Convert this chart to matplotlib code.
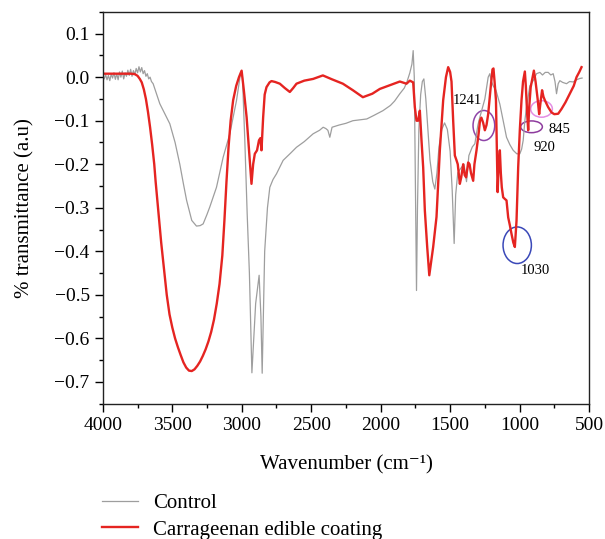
import matplotlib
matplotlib.use("Agg")
import matplotlib.pyplot as plt
from matplotlib.patches import Ellipse
from matplotlib.ticker import MultipleLocator

plt.rcParams['font.family'] = ['Liberation Serif', 'DejaVu Serif']

# Control (gray) - wavenumber / value
ctrl_wn = [4000, 3990, 3980, 3970, 3960, 3950, 3940, 3930, 3920, 3910, 3900, 3890, 3880, 3870,
           3860, 3850, 3840, 3830, 3820, 3810, 3800, 3790, 3780, 3770, 3760, 3750, 3740, 3730,
           3720, 3710, 3700, 3690, 3680, 3670, 3660, 3650, 3638, 3614, 3590, 3560, 3518, 3480,
           3446, 3420, 3397, 3360, 3326, 3300, 3278, 3250, 3230, 3182, 3134, 3086, 3038, 3009,
           2995, 2978, 2961, 2945, 2927, 2900, 2875, 2862, 2853, 2835, 2815, 2798, 2775, 2750,
           2702, 2650, 2606, 2550, 2486, 2440, 2414, 2395, 2380, 2366, 2350, 2300, 2250, 2200,
           2150, 2100, 2050, 1984, 1930, 1900, 1862, 1830, 1812, 1790, 1775, 1766, 1758, 1750,
           1742, 1735, 1725, 1712, 1700, 1689, 1675, 1660, 1645, 1625, 1610, 1595, 1580, 1560,
           1540, 1520, 1500, 1485, 1471, 1460, 1445, 1425, 1400, 1382, 1365, 1340, 1322, 1300,
           1286, 1250, 1226, 1214, 1205, 1190, 1170, 1142, 1118, 1094, 1070, 1046, 1020, 998,
           985, 974, 962, 950, 926, 902, 878, 854, 835, 815, 794, 775, 758, 745, 734, 722, 710,
           690, 662, 640, 614, 590, 566, 550]
ctrl_val = [0.003, -0.004, 0.006, -0.006, 0.004, -0.008, 0.007, -0.002, 0.010, -0.005, 0.008,
            -0.006, 0.012, 0.000, 0.014, -0.004, 0.010, 0.002, 0.016, 0.004, 0.018, 0.002, 0.015,
            0.006, 0.020, 0.010, 0.024, 0.012, 0.022, 0.008, 0.015, 0.002, 0.008, -0.004, 0.000,
            -0.010, -0.015, -0.038, -0.061, -0.080, -0.107, -0.150, -0.200, -0.245, -0.283,
            -0.329, -0.342, -0.341, -0.337, -0.315, -0.298, -0.253, -0.184, -0.130, -0.054,
            0.008, 0.000, -0.145, -0.314, -0.450, -0.679, -0.520, -0.455, -0.550, -0.680, -0.400,
            -0.300, -0.253, -0.235, -0.222, -0.191, -0.175, -0.161, -0.148, -0.130, -0.122,
            -0.115, -0.118, -0.122, -0.138, -0.115, -0.110, -0.106, -0.100, -0.098, -0.096,
            -0.088, -0.077, -0.065, -0.055, -0.038, -0.025, -0.012, 0.010, 0.030, 0.061, 0.000,
            -0.250, -0.490, -0.300, -0.120, -0.040, -0.010, -0.004, -0.050, -0.120, -0.190,
            -0.240, -0.257, -0.220, -0.160, -0.120, -0.105, -0.120, -0.170, -0.260, -0.382,
            -0.270, -0.220, -0.210, -0.200, -0.240, -0.180, -0.160, -0.153, -0.110, -0.092,
            -0.050, 0.000, 0.008, -0.008, -0.020, -0.030, -0.062, -0.100, -0.138, -0.155,
            -0.168, -0.176, -0.176, -0.165, -0.145, -0.100, -0.069, -0.020, -0.008, 0.008,
            0.011, 0.005, 0.011, 0.011, 0.005, 0.008, -0.010, -0.038, -0.015, -0.008, -0.012,
            -0.015, -0.010, -0.011, -0.006, -0.003, -0.002]

# Carrageenan edible coating (red)
carr_wn = [4000, 3900, 3800, 3770, 3750, 3734, 3720, 3705, 3690, 3675, 3660, 3645, 3630, 3620,
           3600, 3580, 3560, 3540, 3520, 3500, 3480, 3460, 3440, 3420, 3400, 3380, 3360, 3340,
           3320, 3300, 3280, 3260, 3240, 3220, 3200, 3180, 3160, 3140, 3125, 3110, 3095, 3080,
           3062, 3040, 3020, 3001, 2985, 2965, 2945, 2930, 2918, 2906, 2890, 2876, 2866, 2858,
           2846, 2835, 2822, 2800, 2786, 2760, 2726, 2690, 2654, 2630, 2606, 2550, 2486, 2416,
           2350, 2272, 2200, 2128, 2060, 2006, 1930, 1862, 1814, 1790, 1766, 1754, 1742, 1730,
           1718, 1706, 1694, 1682, 1665, 1650, 1635, 1622, 1598, 1586, 1574, 1550, 1530, 1514,
           1500, 1490, 1478, 1466, 1455, 1445, 1430, 1420, 1406, 1395, 1385, 1370, 1360, 1350,
           1334, 1325, 1310, 1295, 1285, 1275, 1262, 1250, 1238, 1226, 1210, 1195, 1188, 1180,
           1170, 1162, 1158, 1150, 1142, 1135, 1128, 1118, 1105, 1094, 1082, 1070, 1058, 1045,
           1034, 1022, 1010, 998, 986, 975, 962, 955, 946, 938, 931, 920, 897, 885, 870, 859,
           850, 838, 828, 818, 794, 770, 750, 722, 698, 670, 638, 610, 590, 570, 554]
carr_val = [0.008, 0.008, 0.008, 0.007, 0.003, -0.004, -0.012, -0.028, -0.050, -0.080, -0.115,
            -0.155, -0.200, -0.240, -0.310, -0.380, -0.440, -0.500, -0.545, -0.575, -0.600,
            -0.620, -0.638, -0.655, -0.667, -0.674, -0.675, -0.671, -0.663, -0.653, -0.640,
            -0.625, -0.607, -0.585, -0.557, -0.520, -0.475, -0.410, -0.330, -0.240, -0.160,
            -0.100, -0.053, -0.020, 0.000, 0.015, -0.030, -0.092, -0.180, -0.245, -0.200,
            -0.176, -0.168, -0.145, -0.140, -0.168, -0.092, -0.040, -0.023, -0.012, -0.009,
            -0.011, -0.015, -0.025, -0.034, -0.025, -0.015, -0.008, -0.004, 0.004, -0.005,
            -0.015, -0.030, -0.046, -0.038, -0.027, -0.018, -0.010, -0.015, -0.008, -0.012,
            -0.069, -0.100, -0.100, -0.077, -0.145, -0.207, -0.306, -0.390, -0.455, -0.420,
            -0.390, -0.321, -0.245, -0.168, -0.053, 0.000, 0.023, 0.012, -0.010, -0.100, -0.180,
            -0.190, -0.200, -0.245, -0.230, -0.200, -0.225, -0.230, -0.196, -0.200, -0.220,
            -0.238, -0.200, -0.168, -0.130, -0.100, -0.093, -0.105, -0.122, -0.110, -0.085,
            -0.030, 0.018, 0.020, -0.010, -0.053, -0.200, -0.264, -0.200, -0.168, -0.220,
            -0.253, -0.276, -0.280, -0.283, -0.322, -0.340, -0.360, -0.380, -0.390, -0.330,
            -0.207, -0.120, -0.053, -0.010, 0.013, -0.020, -0.080, -0.122, -0.070, -0.023,
            0.015, -0.010, -0.050, -0.085, -0.060, -0.030, -0.045, -0.053, -0.069, -0.081,
            -0.085, -0.084, -0.073, -0.058, -0.038, -0.020, 0.000, 0.012, 0.023]

# peak annotations: label, ellipse centre (wn, y), ellipse size, colour, label position
ann_labels = ["1241", "920", "845", "1030"]
ann_centers = [(1257, -0.111), (914, -0.114), (842, -0.073), (1017, -0.386)]
ann_sizes = [(156, 0.069), (156, 0.027), (156, 0.038), (204, 0.084)]
ann_colors = ["#8e44a8", "#8e3c9e", "#e48ee4", "#3a48b8"]
ann_text_pos = [(1379, -0.054), (818, -0.161), (710, -0.120), (883, -0.444)]

fig = plt.figure(figsize=(6.05, 5.39), dpi=100)
ax = fig.add_axes([0.170, 0.251, 0.8036, 0.727])

l1, = ax.plot(ctrl_wn, ctrl_val, color="#9e9e9e", lw=0.9, label="Control")
l2, = ax.plot(carr_wn, carr_val, color="#e52421", lw=1.7, label="Carrageenan edible coating")

for lab, c, s, col, tp in zip(ann_labels, ann_centers, ann_sizes, ann_colors, ann_text_pos):
    ax.add_patch(Ellipse(c, s[0], s[1], fill=False, edgecolor=col, lw=1.1))
    ax.text(tp[0], tp[1], lab, fontsize=10.5, ha="center", va="center")

ax.set_xlim(4000, 500)
ax.set_ylim(-0.75, 0.15)
ax.xaxis.set_major_locator(MultipleLocator(500))
ax.xaxis.set_minor_locator(MultipleLocator(250))
ax.yaxis.set_major_locator(MultipleLocator(0.1))
ax.yaxis.set_minor_locator(MultipleLocator(0.05))
ax.tick_params(which="major", length=6, width=1, labelsize=14, direction="out")
ax.tick_params(which="minor", length=3, width=1, direction="out")
for sp in ax.spines.values():
    sp.set_linewidth(1)
    sp.set_color("#222222")

ax.set_xlabel("Wavenumber (cm\u207b\u00b9)", fontsize=15, labelpad=15)
ax.set_ylabel("% transmittance (a.u)", fontsize=15, labelpad=14)

fig.legend(handles=[l1, l2], loc="upper left", bbox_to_anchor=(0.168, 0.084),
           frameon=False, fontsize=15, handlelength=1.75, handletextpad=0.7,
           labelspacing=0.32, borderpad=0, borderaxespad=0)

fig.savefig("out.png", dpi=100)
